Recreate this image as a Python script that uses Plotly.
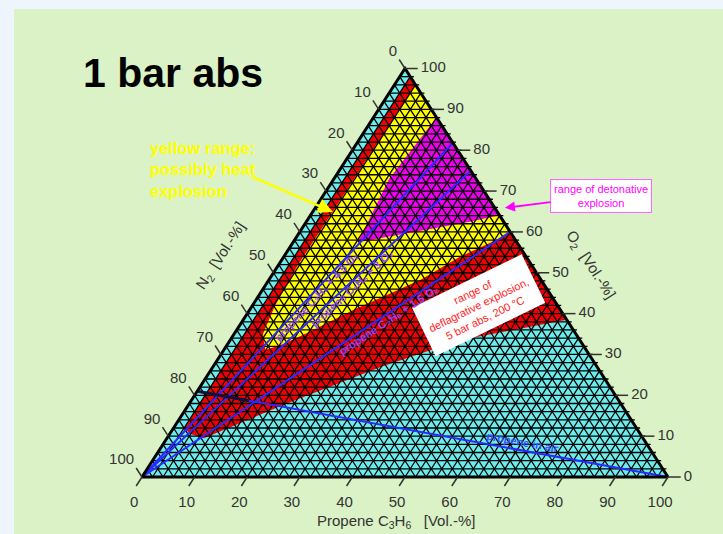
import numpy as np
import plotly.graph_objects as go

# ---------------- data (Vol.-%; P = propene, O = O2, N2 = 100 - P - O) ----------------
TICKS = [0, 10, 20, 30, 40, 50, 60, 70, 80, 90, 100]
GRID_STEP = 2

RED_P = [2, 61.5, 43.7, 31.8, 18.0, 7.0, 4.0, 2.0]
RED_O = [98, 38.5, 33.5, 26.9, 17.6, 9.5, 10.5, 12.0]

YELLOW_P = [4.0, 3.8, 3.7, 4.3, 5.5, 7.9, 10.5, 13.7, 19.7, 28.8, 33.5, 40.3]
YELLOW_O = [96.0, 70.0, 52.0, 42.0, 35.0, 31.1, 32.5, 35.2, 40.9, 48.2, 53.9, 59.7]

MAGENTA_P = [12.0, 10.5, 12.3, 31.1, 35.9]
MAGENTA_O = [88.0, 73.0, 57.5, 62.5, 64.1]

RATIO_LABELS = ["propene C₃H₆ + 4.5 O₂", "propene C₃H₆ + 3 O₂", "propene C₃H₆ + 1.5 O₂"]
RATIO_P_END = [18.2, 25.0, 40.0]          # propene share where N2 = 0
RATIO_LABEL_POS = [0.56, 0.64, 0.67]
AIR_O2 = 21.0
AIR_EXPL_P = 11.0

# ---------------- geometry of the picture ----------------
W, H = 723, 534
ML, MT = 14, 9
X0, X1 = -24.33, 110.46
Y0, Y1 = -13.95, 114.57
PXX = (W - ML) / (X1 - X0)
PXY = (H - MT) / (Y1 - Y0)


def tx(P, O):
    return [p + o / 2.0 for p, o in zip(P, O)]


def pix_angle(P1, O1, P2, O2):
    dx = ((P2 + O2 / 2) - (P1 + O1 / 2)) * PXX
    dy = (O2 - O1) * PXY
    return -np.degrees(np.arctan2(dy, dx))


FONT = "Liberation Sans, Arial, sans-serif"
fig = go.Figure()


def poly(P, O, color):
    fig.add_trace(go.Scatter(x=tx(P, O) + [tx(P, O)[0]], y=list(O) + [O[0]], mode="lines",
                             fill="toself", fillcolor=color, line=dict(width=0),
                             hoverinfo="skip", showlegend=False))


# whole triangle (cyan), then regions
poly([0, 100, 0], [0, 0, 100], "#6cecec")
poly(RED_P, RED_O, "#f00000")
poly(YELLOW_P, YELLOW_O, "#ffff00")
poly(MAGENTA_P, MAGENTA_O, "#ee00ee")

# triangular mesh (+ small teeth on the O2 edge)
gx, gy = [], []
for k in range(GRID_STEP, 100, GRID_STEP):
    gx += [k / 2, 100 - k / 2 + 0.7, None]; gy += [k, k, None]      # const O2
    gx += [k, k + (100 - k) / 2, None]; gy += [0, 100 - k, None]    # const propene
    gx += [k / 2, k, None]; gy += [k, 0, None]                      # const N2
fig.add_trace(go.Scatter(x=gx, y=gy, mode="lines", line=dict(color="black", width=1.3),
                         hoverinfo="skip", showlegend=False))

# ratio lines from the N2 corner
for pe in RATIO_P_END:
    P = [0, pe]; O = [0, 100 - pe]
    fig.add_trace(go.Scatter(x=tx(P, O), y=O, mode="lines", line=dict(color="#2a2aff", width=2),
                             hoverinfo="skip", showlegend=False))
# propene-in-air line
Pa = [0, 100]; Oa = [AIR_O2, 0]
fig.add_trace(go.Scatter(x=tx(Pa, Oa), y=Oa, mode="lines", line=dict(color="#2a2aff", width=2),
                         hoverinfo="skip", showlegend=False))
Pb = [0, AIR_EXPL_P]; Ob = [AIR_O2, AIR_O2 * (1 - AIR_EXPL_P / 100)]
fig.add_trace(go.Scatter(x=tx(Pb, Ob), y=Ob, mode="lines", line=dict(color="#101040", width=3),
                         hoverinfo="skip", showlegend=False))

# triangle border
fig.add_trace(go.Scatter(x=tx([0, 100, 0, 0], [0, 0, 100, 0]), y=[0, 0, 100, 0], mode="lines",
                         line=dict(color="black", width=3), hoverinfo="skip", showlegend=False))

# ticks
T = 2.2
bx, by, lx, ly, rx, ry = [], [], [], [], [], []
for t in TICKS:
    bx += [t, t - T / 2, None]; by += [0, -T, None]
    o = 100 - t
    lx += [o / 2, -T + (o + T) / 2, None]; ly += [o, o + T, None]
    rx += [100 - t / 2, 100 - t / 2 + T * 1.1, None]; ry += [t, t, None]
fig.add_trace(go.Scatter(x=bx + lx + rx, y=by + ly + ry, mode="lines",
                         line=dict(color="#333333", width=1.5), hoverinfo="skip", showlegend=False))

tf = dict(family=FONT, size=15, color="#333333")
fig.add_trace(go.Scatter(x=[t - 1.5 for t in TICKS], y=[-6.4] * len(TICKS), mode="text",
                         text=[str(t) for t in TICKS], textposition="middle center", textfont=tf,
                         hoverinfo="skip", showlegend=False))
fig.add_trace(go.Scatter(x=[(100 - t) / 2 - 1.5 for t in TICKS], y=[100 - t + 4.0 for t in TICKS],
                         mode="text", text=[str(t) for t in TICKS], textposition="middle left",
                         textfont=tf, hoverinfo="skip", showlegend=False))
fig.add_trace(go.Scatter(x=[100 - t / 2 + 3.0 for t in TICKS], y=TICKS, mode="text",
                         text=[str(t) for t in TICKS], textposition="middle right", textfont=tf,
                         hoverinfo="skip", showlegend=False))

ann = []
# axis titles
ann.append(dict(x=48.3, y=-10.8, text="Propene C<sub>3</sub>H<sub>6</sub>   [Vol.-%]",
                showarrow=False, font=dict(family=FONT, size=15, color="#333333")))
ann.append(dict(x=15.0, y=54.3, text="N<sub>2</sub>  [Vol.-%]", textangle=-57,
                showarrow=False, font=dict(family=FONT, size=15, color="#333333")))
ann.append(dict(x=85.4, y=51.9, text="O<sub>2</sub>  [Vol.-%]", textangle=57,
                showarrow=False, font=dict(family=FONT, size=15, color="#333333")))
# title
ann.append(dict(x=-11.6, y=98.9, text="<b>1 bar abs</b>", xanchor="left", showarrow=False,
                font=dict(family=FONT, size=41, color="black")))
# yellow note
ann.append(dict(x=1.1, y=75.2, text="<b>yellow range:<br>possibly heat<br>explosion</b>",
                xanchor="left", align="left", showarrow=False,
                font=dict(family=FONT, size=16.5, color="#ffff00")))
ann.append(dict(x=36.3, y=64.9, ax=-83, ay=-36, text="", showarrow=True, arrowhead=2,
                arrowsize=1.2, arrowwidth=2.5, arrowcolor="#ffff00"))
# detonative box
ann.append(dict(x=69.0, y=65.9, ax=96, ay=-12, text="range of detonative<br>explosion",
                showarrow=True, arrowhead=2, arrowsize=1, arrowwidth=2, arrowcolor="#ff00ff",
                bgcolor="white", bordercolor="#ff66ff", borderwidth=1, borderpad=3,
                font=dict(family=FONT, size=11, color="#ff00ff")))
# deflagrative box
ann.append(dict(x=63.9, y=42.1, text="range of<br>deflagrative explosion,<br>5 bar abs, 200 °C",
                textangle=-26, showarrow=False, bgcolor="white", borderpad=6,
                font=dict(family=FONT, size=11, color="#ff2020")))
# ratio line labels
for lab, pe, f in zip(RATIO_LABELS, RATIO_P_END, RATIO_LABEL_POS):
    P = pe * f; O = (100 - pe) * f
    a = pix_angle(0, 0, pe, 100 - pe)
    ann.append(dict(x=P + O / 2, y=O, text="<b>" + lab + "</b>", textangle=a, showarrow=False,
                    yshift=-7, font=dict(family=FONT, size=11, color="#8a46ff")))
# air line label
s = 0.69
ann.append(dict(x=AIR_O2 / 2 * (1 - s) + 100 * s, y=AIR_O2 * (1 - s), text="<b>propene in air</b>",
                textangle=pix_angle(0, AIR_O2, 100, 0), showarrow=False, yshift=8,
                font=dict(family=FONT, size=11, color="#3c50ff")))

fig.update_layout(
    width=W, height=H, margin=dict(l=ML, r=0, t=MT, b=0, autoexpand=False),
    paper_bgcolor="#eef5fc", plot_bgcolor="#daf2c6",
    xaxis=dict(range=[X0, X1], visible=False, fixedrange=True),
    yaxis=dict(range=[Y0, Y1], visible=False, fixedrange=True),
    annotations=ann, showlegend=False,
)
fig.write_html("out.html", config={"displayModeBar": False},
               post_script="document.body.style.margin='0';document.body.style.overflow='hidden';")
